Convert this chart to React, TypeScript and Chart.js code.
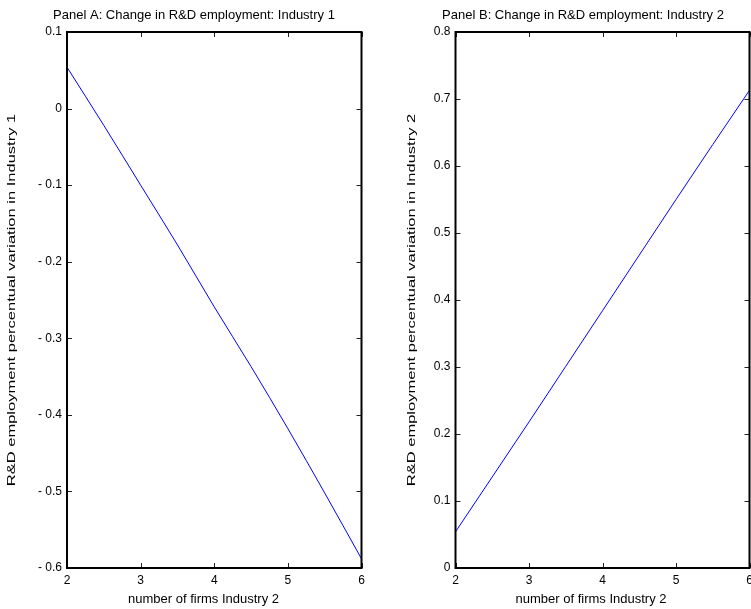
import React, { useEffect, useRef } from "react";
import { Chart, registerables } from "chart.js";

Chart.register(...registerables);

// Number of firms in industry 2 (sample points along the curve)
const firmCounts = [2, 2.5, 3, 3.5, 4, 4.5, 5, 5.5, 6];

// Percentual variation of R&D employment
const industry1Change = [0.054, -0.022, -0.1, -0.178, -0.259, -0.337, -0.418, -0.502, -0.588];
const industry2Change = [0.054, 0.136, 0.218, 0.301, 0.384, 0.467, 0.55, 0.632, 0.713];

// Axis ticks
const firmTicks = [2, 3, 4, 5, 6];
const panelATicks = [-0.6, -0.5, -0.4, -0.3, -0.2, -0.1, 0, 0.1];
const panelBTicks = [0, 0.1, 0.2, 0.3, 0.4, 0.5, 0.6, 0.7, 0.8];

const FONT = "'Liberation Sans', Arial, Helvetica, sans-serif";

function fmtTick(v: number): string {
  const r = Math.round(v * 10) / 10;
  if (r === 0) return "0";
  return r < 0 ? "- " + Math.abs(r).toFixed(1) : r.toFixed(1);
}

// Frame around the plot area plus inward tick marks on all four sides
const frameTicksPlugin = {
  id: "frameTicks",
  afterDatasetsDraw(chart: any) {
    const { ctx, chartArea: a, scales } = chart;
    const len = 5;
    ctx.save();
    ctx.strokeStyle = "#222";
    ctx.lineWidth = 1;
    ctx.beginPath();
    for (const t of scales.x.ticks) {
      const px = Math.round(scales.x.getPixelForValue(t.value)) + 0.5;
      ctx.moveTo(px, a.bottom);
      ctx.lineTo(px, a.bottom - len);
      ctx.moveTo(px, a.top);
      ctx.lineTo(px, a.top + len);
    }
    for (const t of scales.y.ticks) {
      const py = Math.round(scales.y.getPixelForValue(t.value)) + 0.5;
      ctx.moveTo(a.left, py);
      ctx.lineTo(a.left + len, py);
      ctx.moveTo(a.right, py);
      ctx.lineTo(a.right - len, py);
    }
    ctx.stroke();
    ctx.strokeStyle = "#000";
    ctx.lineWidth = 2;
    ctx.strokeRect(a.left, a.top, a.right - a.left, a.bottom - a.top);
    ctx.restore();
  },
};

// Panel title and axis titles
const panelLabelsPlugin = {
  id: "panelLabels",
  afterDraw(chart: any, _args: any, opts: any) {
    const { ctx, chartArea: a } = chart;
    ctx.save();
    ctx.fillStyle = "#000";
    ctx.textAlign = "center";
    ctx.textBaseline = "alphabetic";
    ctx.font = `13px ${FONT}`;
    ctx.fillText(opts.title, opts.titleX, 19);
    ctx.fillText(opts.xTitle, opts.xTitleX, 603);
    ctx.translate(opts.yTitleX, (a.top + a.bottom) / 2);
    ctx.rotate(-Math.PI / 2);
    ctx.scale(1.5, 1);
    ctx.font = `11px ${FONT}`;
    ctx.fillText(opts.yTitle, 0, 0);
    ctx.restore();
  },
};

type PanelProps = {
  left: number;
  width: number;
  values: number[];
  yTicks: number[];
  yMin: number;
  yMax: number;
  yAxisWidth: number;
  padRight: number;
  title: string;
  titleX: number;
  xTitleX: number;
  yTitle: string;
  yTitleX: number;
};

function Panel(p: PanelProps) {
  const ref = useRef<HTMLCanvasElement | null>(null);

  useEffect(() => {
    if (!ref.current) return;
    const chart = new Chart(ref.current, {
      type: "line",
      data: {
        datasets: [
          {
            data: firmCounts.map((x, i) => ({ x, y: p.values[i] })),
            borderColor: "#0000ff",
            borderWidth: 1,
            pointRadius: 0,
            fill: false,
            cubicInterpolationMode: "monotone",
          },
        ],
      },
      options: {
        responsive: false,
        maintainAspectRatio: false,
        animation: false,
        events: [],
        layout: { padding: { left: 0, top: 32, right: p.padRight, bottom: 21 } },
        plugins: {
          legend: { display: false },
          tooltip: { enabled: false },
          title: { display: false },
          panelLabels: {
            title: p.title,
            titleX: p.titleX,
            xTitle: "number of firms Industry 2",
            xTitleX: p.xTitleX,
            yTitle: p.yTitle,
            yTitleX: p.yTitleX,
          },
        } as any,
        scales: {
          x: {
            type: "linear",
            min: 2,
            max: 6,
            grid: { display: false, drawTicks: false },
            border: { display: false },
            afterBuildTicks: (s: any) => {
              s.ticks = firmTicks.map((v) => ({ value: v }));
            },
            afterFit: (s: any) => {
              s.height = 20;
            },
            ticks: {
              padding: 5,
              maxRotation: 0,
              color: "#000",
              font: { family: FONT, size: 12 },
              callback: (v: any) => String(v),
            },
          },
          y: {
            type: "linear",
            min: p.yMin,
            max: p.yMax,
            grid: { display: false, drawTicks: false },
            border: { display: false },
            afterBuildTicks: (s: any) => {
              s.ticks = p.yTicks.map((v) => ({ value: v }));
            },
            afterFit: (s: any) => {
              s.width = p.yAxisWidth;
            },
            ticks: {
              padding: 5,
              color: "#000",
              font: { family: FONT, size: 12 },
              callback: (v: any) => fmtTick(Number(v)),
            },
          },
        },
      },
      plugins: [frameTicksPlugin, panelLabelsPlugin],
    } as any);
    return () => chart.destroy();
  }, []);

  return (
    <canvas
      ref={ref}
      width={p.width}
      height={609}
      style={{ position: "absolute", left: p.left, top: 0, width: p.width, height: 609, display: "block" }}
    />
  );
}

export default function App() {
  return (
    <div
      style={{
        position: "absolute",
        left: 0,
        top: 0,
        width: 751,
        height: 609,
        overflow: "hidden",
        background: "#fff",
      }}
    >
      <Panel
        left={0}
        width={388}
        values={industry1Change}
        yTicks={panelATicks}
        yMin={-0.6}
        yMax={0.1}
        yAxisWidth={67}
        padRight={26.5}
        title="Panel A: Change in R&D employment: Industry 1"
        titleX={194}
        xTitleX={203.5}
        yTitle="R&D employment percentual variation in Industry 1"
        yTitleX={15}
      />
      <Panel
        left={390}
        width={400}
        values={industry2Change}
        yTicks={panelBTicks}
        yMin={0}
        yMax={0.8}
        yAxisWidth={65.5}
        padRight={40.5}
        title="Panel B: Change in R&D employment: Industry 2"
        titleX={193}
        xTitleX={201}
        yTitle="R&D employment percentual variation in Industry 2"
        yTitleX={25}
      />
    </div>
  );
}
